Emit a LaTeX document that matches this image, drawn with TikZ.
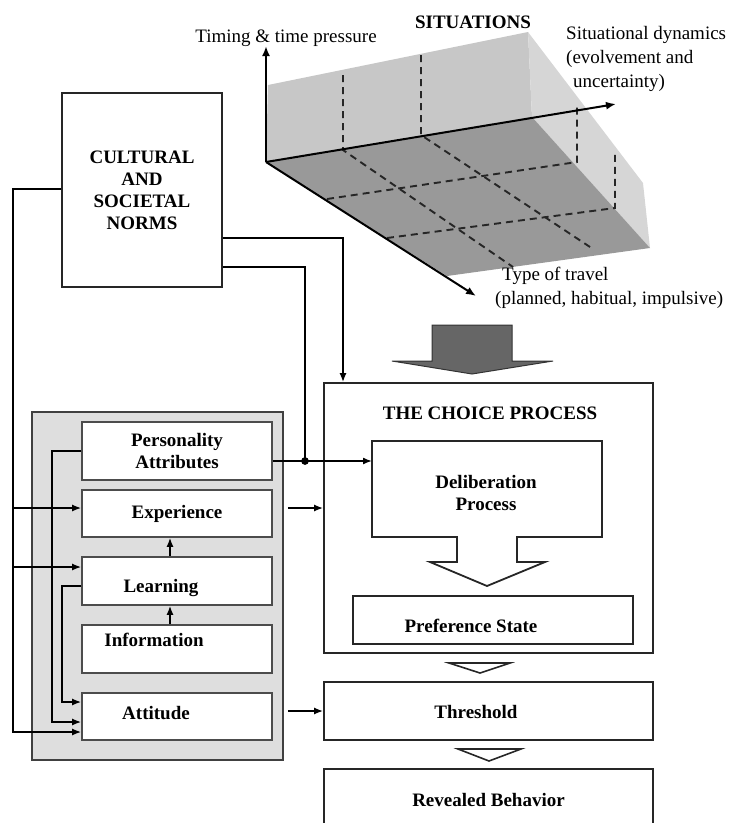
\documentclass[tikz,border=0pt]{standalone}
\usepackage{fontspec}
\setmainfont{Liberation Serif}
\usetikzlibrary{arrows.meta, calc}
\tikzstyle{line} = [draw, line width=1.5pt, -{Latex[length=9pt,width=7pt]}]
\tikzstyle{box} = [draw=black!85, line width=1.8pt, inner sep=0pt]
\tikzstyle{inbox} = [draw=black!70, fill=white, line width=1.7pt, inner sep=0pt, minimum width=190]
\tikzstyle{lbl} = [font=\fontsize{19}{22}\selectfont\bfseries, align=center, inner sep=0pt]
\tikzstyle{axislbl} = [font=\fontsize{19}{24}\selectfont, align=left, inner sep=0pt]
\tikzstyle{gridline} = [dash pattern=on 7pt off 5pt, line width=1.9pt, black!85]

\begin{document}
\begin{tikzpicture}[x=1pt, y=-1pt, >={Latex[length=10pt,width=8pt]}, font=\fontsize{19}{22}\selectfont]
	\clip (0,0) rectangle (734,823);
	%Situationen
	\fill[black!22] (268,85) -- (528,32) -- (532,117) -- (266,162) -- cycle;
	\fill[black!16] (528,32) -- (643,183) -- (650,248) -- (532,117) -- cycle;
	\fill[black!40] (266,162) -- (532,117) -- (650,248) -- (447,276) -- cycle;
	\draw[gridline] (343,75) -- (343,150) -- (513,267);
	\draw[gridline] (421,55) -- (421,135) -- (590,247);
	\draw[gridline] (327,199) -- (577,162) -- (577,103);
	\draw[gridline] (387,238) -- (615,208) -- (615,152);
	\coordinate (o) at (266,162);
	\coordinate (timeAx) at (266,46);
	\coordinate (dynAx) at (616,104);
	\coordinate (travelAx) at (476,296);
	\draw[line width=2pt, ->] (o) -- (timeAx);
	\draw[line width=2pt, ->] (o) -- (dynAx);
	\draw[line width=2pt, ->] (o) -- (travelAx);
	\node[lbl] (sit) at (473,22) {SITUATIONS};
	\node[axislbl] (timeL) at (286,38) {Timing \& time pressure};
	\node[axislbl, anchor=north west] (dynL) at (566,26) {Situational dynamics\\(evolvement and\\\hspace*{7pt}uncertainty)};
	\node[axislbl, anchor=north west] (travelL) at (495,267) {\hspace*{7pt}Type of travel\\(planned, habitual, impulsive)};
	\draw[fill=black!60, draw=black!80, line width=1pt] (432,325) -- (512,325) -- (512,361) -- (553,361)
		-- (472,374) -- (392,361) -- (432,361) -- cycle;

	%Normen
	\node[box, lbl, minimum width=160, minimum height=194] (norms) at (142,190) {CULTURAL\\AND\\SOCIETAL\\NORMS};

	%linke Spalte
	\node[draw=black!75, fill=black!13, line width=1.7pt, minimum width=251, minimum height=348] (traits) at (157.5,586) {};
	\node[inbox, lbl, minimum height=58] (pers) at (177,451) {Personality\\Attributes};
	\node[inbox, lbl, minimum height=47] (exper) at (177,513.5) {Experience};
	\node[inbox, minimum height=48] (learn) at (177,581) {};
	\node[inbox, minimum height=48] (info) at (177,649) {};
	\node[inbox, minimum height=47] (attit) at (177,716.5) {};
	\node[lbl] (learnT) at (161,588) {Learning};
	\node[lbl] (infoT) at (154,640) {Information};
	\node[lbl] (attitT) at (156,713) {Attitude};

	%rechte Spalte
	\node[box, minimum width=329, minimum height=270] (choice) at (488.5,518) {};
	\node[lbl] (choiceT) at (490,413) {THE CHOICE PROCESS};
	\draw[draw=black!85, fill=white, line width=1.8pt] (372,441) -- (602,441) -- (602,537) -- (517,537) -- (517,562)
		-- (545,562) -- (487,586) -- (430,562) -- (457,562) -- (457,537) -- (372,537) -- cycle;
	\coordinate (delibIn) at (372,461);
	\node[lbl] (delib) at (486,493) {Deliberation\\Process};
	\node[box, minimum width=280, minimum height=48] (pref) at (493,620) {};
	\node[lbl] (prefT) at (471,626) {Preference State};
	\node[box, minimum width=329, minimum height=58] (thresh) at (488.5,711) {};
	\node[lbl] (threshT) at (476,712) {Threshold};
	\node[box, lbl, minimum width=329, minimum height=62] (reveal) at (488.5,800) {Revealed Behavior};
	\draw[draw=black!85, fill=white, line width=1.6pt] (449,663) -- (510,663) -- (480,673) -- cycle;
	\draw[draw=black!85, fill=white, line width=1.6pt] (458,749) -- (521,749) -- (489,761) -- cycle;

	%Verbindungen
	\coordinate (busL) at (13,189);
	\coordinate (busP) at (52,451);
	\coordinate (busN) at (62,586);
	\coordinate (jn) at (305,461);
	\draw[line] (norms.west |- busL) -- (busL) |- ([yshift=-15.5pt]attit.west);
	\draw[line] ([yshift=5.5pt]exper.west -| busL) -- ([yshift=5.5pt]exper.west);
	\draw[line] ([yshift=14pt]learn.west -| busL) -- ([yshift=14pt]learn.west);
	\draw[line] (pers.west) -- (busP) |- ([yshift=-5.5pt]attit.west);
	\draw[line] ([yshift=-5pt]learn.west) -- (busN) |- ([yshift=14.5pt]attit.west);
	\draw[line] ([xshift=-7pt]learn.north) -- ([xshift=-7pt]exper.south);
	\draw[line] ([xshift=-7pt]info.north) -- ([xshift=-7pt]learn.south);
	\draw[line] ([yshift=-48pt]norms.east) -| ([xshift=-145.5pt]choice.north);
	\draw[line width=1.5pt] ([yshift=-77pt]norms.east) -| (jn);
	\draw[line] ([yshift=-10pt]pers.east) -- (delibIn);
	\filldraw (jn) circle (3.6pt);
	\draw[line] ([xshift=15pt,yshift=5.5pt]exper.east) -- ([yshift=5.5pt]exper.east -| choice.west);
	\draw[line] ([xshift=15pt]attit.east |- thresh.west) -- (thresh.west);
\end{tikzpicture}
\end{document}
